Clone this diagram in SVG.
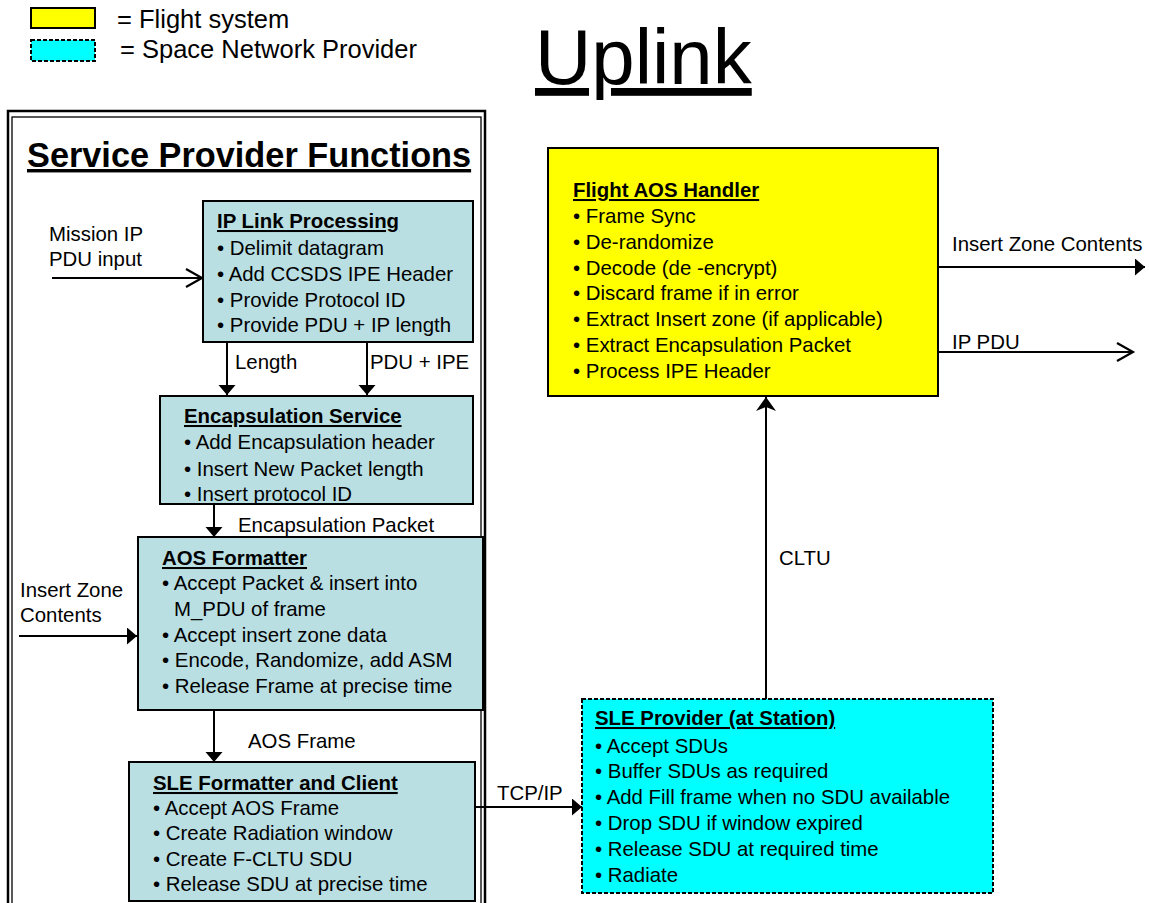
<svg xmlns="http://www.w3.org/2000/svg" width="1149" height="903" viewBox="0 0 1149 903">
<style>
text{font-family:"Liberation Sans",Arial,sans-serif;fill:#000}
.b{font-size:20.4px}
.t{font-size:20.4px;font-weight:bold;text-decoration:underline}
.box{fill:#B9DFE3;stroke:#000;stroke-width:2}
.ln{stroke:#000;stroke-width:2;fill:none}
</style>
<defs>
<marker id="tri" markerUnits="userSpaceOnUse" markerWidth="12" markerHeight="18" refX="10" refY="8.5" orient="auto"><path d="M0,0 L10,8.5 L0,17 z" fill="#000"/></marker>
<marker id="open" markerUnits="userSpaceOnUse" markerWidth="20" markerHeight="22" refX="17" refY="10" orient="auto"><path d="M1,1 L17,10 L1,19" fill="none" stroke="#000" stroke-width="2.2"/></marker>
<marker id="stealth" markerUnits="userSpaceOnUse" markerWidth="16" markerHeight="22" refX="14" refY="10" orient="auto"><path d="M0,0 L14,10 L0,20 L4,10 z" fill="#000"/></marker>
</defs>

<g id="legend">
<rect x="31" y="8" width="64" height="20" fill="#FFFF00" stroke="#000" stroke-width="2"/>
<rect x="31" y="40" width="64" height="21" fill="#00FFFF" stroke="#000" stroke-width="2" stroke-dasharray="4 2"/>
<text x="117" y="28" font-size="25.5">= Flight system</text>
<text x="120" y="58" font-size="25.5">= Space Network Provider</text>
</g>

<g id="title"><text x="535" y="84" font-size="78" text-decoration="underline">Uplink</text></g>

<g id="frame">
<rect x="8" y="111" width="477" height="800" fill="none" stroke="#000" stroke-width="2.5"/>
<rect x="12" y="117" width="469" height="800" fill="none" stroke="#000" stroke-width="1.3"/>
<text x="27" y="167" font-size="34.3" font-weight="bold" text-decoration="underline">Service Provider Functions</text>
</g>

<g id="connectors">
<line class="ln" x1="52" y1="278" x2="202" y2="278" marker-end="url(#open)"/>
<line class="ln" x1="227" y1="342" x2="227" y2="395" marker-end="url(#tri)"/>
<line class="ln" x1="367" y1="342" x2="367" y2="395" marker-end="url(#tri)"/>
<line class="ln" x1="214" y1="504" x2="214" y2="537" marker-end="url(#tri)"/>
<line class="ln" x1="19" y1="636" x2="137" y2="636" marker-end="url(#tri)"/>
<line class="ln" x1="214" y1="710" x2="214" y2="762" marker-end="url(#tri)"/>
<line class="ln" x1="475" y1="807" x2="582" y2="807" marker-end="url(#tri)"/>
<line class="ln" x1="766" y1="699" x2="766" y2="397" marker-end="url(#stealth)"/>
<line class="ln" x1="938" y1="267" x2="1145" y2="267" marker-end="url(#tri)"/>
<line class="ln" x1="938" y1="352" x2="1133" y2="352" marker-end="url(#open)"/>
<text class="b" x="49" y="241">Mission IP</text>
<text class="b" x="49" y="266">PDU input</text>
<text class="b" x="235" y="369">Length</text>
<text class="b" x="370" y="369">PDU + IPE</text>
<text class="b" x="238" y="532">Encapsulation Packet</text>
<text class="b" x="20" y="597">Insert Zone</text>
<text class="b" x="20" y="622">Contents</text>
<text class="b" x="248" y="748">AOS Frame</text>
<text class="b" x="497" y="800">TCP/IP</text>
<text class="b" x="779" y="565">CLTU</text>
<text class="b" x="952" y="251">Insert Zone Contents</text>
<text class="b" x="952" y="349">IP PDU</text>
</g>

<g id="ip-link">
<rect class="box" x="203" y="201" width="270" height="141"/>
<text class="t" x="217" y="228">IP Link Processing</text>
<text class="b" x="217" y="255">• Delimit datagram</text>
<text class="b" x="217" y="281">• Add CCSDS IPE Header</text>
<text class="b" x="217" y="307">• Provide Protocol ID</text>
<text class="b" x="217" y="332">• Provide PDU + IP length</text>
</g>

<g id="encapsulation">
<rect class="box" x="160" y="396" width="313" height="108"/>
<text class="t" x="184" y="423">Encapsulation Service</text>
<text class="b" x="184" y="449">• Add Encapsulation header</text>
<text class="b" x="184" y="476">• Insert New Packet length</text>
<text class="b" x="184" y="501">• Insert protocol ID</text>
</g>

<g id="aos-formatter">
<rect class="box" x="138" y="537" width="345" height="173"/>
<text class="t" x="162" y="565">AOS Formatter</text>
<text class="b" x="162" y="590">• Accept Packet &amp; insert into</text>
<text class="b" x="174" y="616">M_PDU of frame</text>
<text class="b" x="162" y="642">• Accept insert zone data</text>
<text class="b" x="162" y="667">• Encode, Randomize, add ASM</text>
<text class="b" x="162" y="693">• Release Frame at precise time</text>
</g>

<g id="sle-formatter">
<rect class="box" x="129" y="762" width="346" height="139"/>
<text class="t" x="153" y="790">SLE Formatter and Client</text>
<text class="b" x="153" y="815">• Accept AOS Frame</text>
<text class="b" x="153" y="840">• Create Radiation window</text>
<text class="b" x="153" y="866">• Create F-CLTU SDU</text>
<text class="b" x="153" y="891">• Release SDU at precise time</text>
</g>

<g id="sle-provider">
<rect x="582" y="699" width="411" height="194" fill="#00FFFF" stroke="#000" stroke-width="2" stroke-dasharray="4 2"/>
<text class="t" x="595" y="725">SLE Provider (at Station)</text>
<text class="b" x="595" y="753">• Accept SDUs</text>
<text class="b" x="595" y="778">• Buffer SDUs as required</text>
<text class="b" x="595" y="804">• Add Fill frame when no SDU available</text>
<text class="b" x="595" y="830">• Drop SDU if window expired</text>
<text class="b" x="595" y="856">• Release SDU at required time</text>
<text class="b" x="595" y="882">• Radiate</text>
</g>

<g id="flight-aos">
<rect x="548" y="148" width="390" height="248" fill="#FFFF00" stroke="#000" stroke-width="2"/>
<text class="t" x="573" y="197">Flight AOS Handler</text>
<text class="b" x="573" y="223">• Frame Sync</text>
<text class="b" x="573" y="249">• De-randomize</text>
<text class="b" x="573" y="275">• Decode (de -encrypt)</text>
<text class="b" x="573" y="300">• Discard frame if in error</text>
<text class="b" x="573" y="326">• Extract Insert zone (if applicable)</text>
<text class="b" x="573" y="352">• Extract Encapsulation Packet</text>
<text class="b" x="573" y="378">• Process IPE Header</text>
</g>
</svg>
